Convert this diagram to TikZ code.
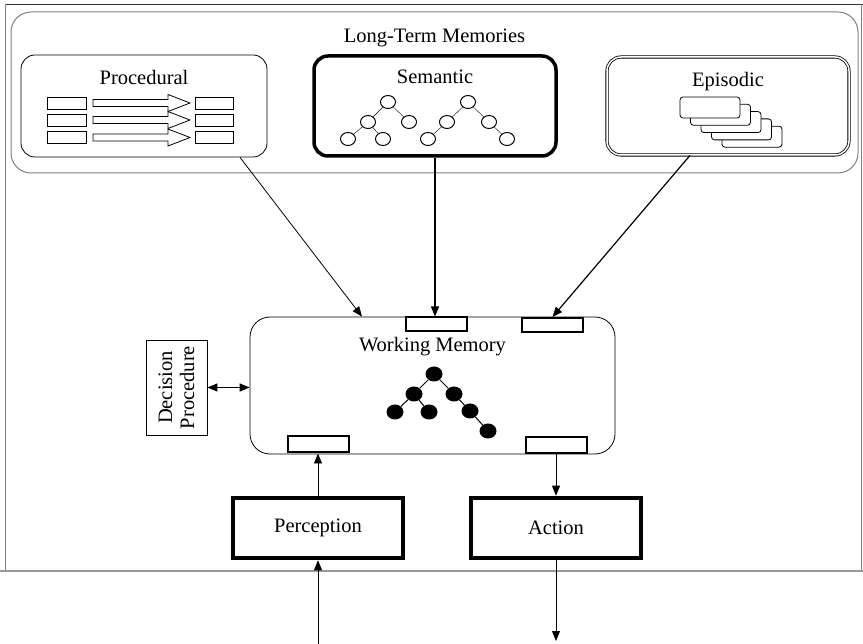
\documentclass[tikz,border=0pt]{standalone}
\usepackage{fontspec}
\setmainfont{Liberation Serif}
\usetikzlibrary{shapes.geometric, arrows.meta, positioning}
\tikzstyle{arrow} = [->, >={Triangle[length=10pt,width=8pt]}]
\usepackage{xcolor}

\begin{document}
\begin{tikzpicture}[
  x=1pt, y=-1pt,
  every node/.style={font=\fontsize{20.5}{25}\selectfont},
  memory/.style={draw, rectangle, rounded corners=14pt, minimum width=246pt, minimum height=102pt, line width=0.8pt},
  slot/.style={draw, rectangle, line width=2pt, minimum width=61pt, minimum height=14pt, inner sep=0pt},
  io/.style={draw, rectangle, line width=4.5pt, minimum width=170pt, minimum height=60pt},
  title/.style={inner sep=0pt},
  hollow/.style={draw, ellipse, minimum width=15pt, minimum height=13pt, inner sep=0pt, line width=1pt},
  filled/.style={fill, ellipse, minimum width=17pt, minimum height=15pt, inner sep=0pt}
]
\useasboundingbox (0,0) rectangle (863,644);

% Frame
\draw[black!80, line width=0.8pt] (5,4) -- (863,4);
\draw[gray, line width=0.8pt] (5,4) -- (5,571);
\draw[gray, line width=0.8pt] (861,4) -- (861,571);
\draw[gray!80, line width=2.5pt] (0,571) -- (863,571);

% Long-term memories
\node[draw=gray, rounded corners=20pt, line width=1pt, minimum width=847pt, minimum height=161pt] (ltm) at (434.5,92.5) {};
\node[title, below=17pt of ltm.north] {Long-Term Memories};

\node[memory] (proc) at (144,106) {};
\node[memory, line width=3.5pt, minimum width=242pt, minimum height=100pt] (sem) at (435,106) {};
\node[memory, double, double distance=1.5pt, minimum width=242pt, minimum height=98pt] (epi) at (728,106) {};

\node[title, below=15pt of proc.north] {Procedural};
\node[title, below=15pt of sem.north] {Semantic};
\node[title, below=15pt of epi.north] {Episodic};

% Procedural rules
\foreach \y in {103,120,137.5} {
  \draw[line width=0.8pt] (47,\y-6) rectangle (86,\y+6);
  \draw[line width=0.8pt] (195,\y-6) rectangle (233,\y+6);
  \draw[line width=0.8pt, fill=white] (93,\y-3.5) -- (168,\y-3.5) -- (168,\y-8.5) -- (190,\y)
    -- (168,\y+8.5) -- (168,\y+3.5) -- (93,\y+3.5) -- cycle;
}

% Semantic trees
\node[hollow] (s1r) at (388,102) {};
\node[hollow] (s1a) at (368,122) {};
\node[hollow] (s1b) at (409,122) {};
\node[hollow] (s1c) at (348,139) {};
\node[hollow] (s1d) at (383,139) {};
\draw (s1r) -- (s1a) (s1r) -- (s1b) (s1a) -- (s1c) (s1a) -- (s1d);

\node[hollow] (s2r) at (468,102) {};
\node[hollow] (s2a) at (447,122) {};
\node[hollow] (s2b) at (489,122) {};
\node[hollow] (s2c) at (428,139) {};
\node[hollow] (s2d) at (507,139) {};
\draw (s2r) -- (s2a) (s2r) -- (s2b) (s2a) -- (s2c) (s2b) -- (s2d);

% Episodes
\foreach \i in {4,3,2,1,0}
  \draw[line width=0.8pt, fill=white, rounded corners=3pt] (680+10.5*\i,97+7.3*\i) rectangle ++(60,21);

% Working memory
\node[draw, rounded corners=20pt, line width=0.8pt, minimum width=365pt, minimum height=137pt] (wm) at (432.5,385.5) {};
\node[title, below=20pt of wm.north] {Working Memory};

\node[slot, fill=white] (slot1) at (436,324.5) {};
\node[slot, fill=white] (slot2) at (552.5,325) {};
\node[slot, fill=white, minimum height=16pt] (slot3) at (318,444.5) {};
\node[slot, fill=white, minimum height=16pt] (slot4) at (556,445.5) {};

\node[filled] (w1) at (434,374) {};
\node[filled] (w2) at (414,394) {};
\node[filled] (w3) at (454,394) {};
\node[filled] (w4) at (395,412) {};
\node[filled] (w5) at (429,412) {};
\node[filled] (w6) at (470,411) {};
\node[filled] (w7) at (488,431) {};
\draw[line width=1pt] (w1) -- (w2) (w1) -- (w3) (w2) -- (w4) (w2) -- (w5) (w3) -- (w6) (w6) -- (w7);

% Decision procedure
\node[draw, rotate=90, align=center, line width=0.8pt, minimum width=95pt, minimum height=61pt, inner sep=0pt] (dec) at (176.5,387.5) {Decision\\[-3pt]Procedure};

% Perception and action
\node[io] (perc) at (318,528) {Perception};
\node[io] (act) at (556,528) {Action};
\coordinate (sense) at (318,644);
\coordinate (effect) at (556,641);

% Connectors
\draw[arrow, line width=0.8pt] ([xshift=96pt]proc.south) -- ([xshift=-70.5pt]wm.north);
\draw[arrow, line width=1.2pt] (sem.south) -- (sem.south |- slot1.north);
\draw[arrow, line width=1.2pt] ([xshift=-38pt]epi.south) -- (slot2.north);
\draw[<->, >={Triangle[length=10pt,width=8pt]}, line width=1.2pt] (dec.south) -- (dec.south -| wm.west);
\draw[arrow, line width=0.8pt] (perc.north) -- (slot3.south);
\draw[arrow, line width=0.8pt] (slot4.south) -- (act.north);
\draw[arrow, line width=0.8pt] (sense) -- (perc.south);
\draw[arrow, line width=0.8pt] (act.south) -- (effect);
\end{tikzpicture}
\end{document}
